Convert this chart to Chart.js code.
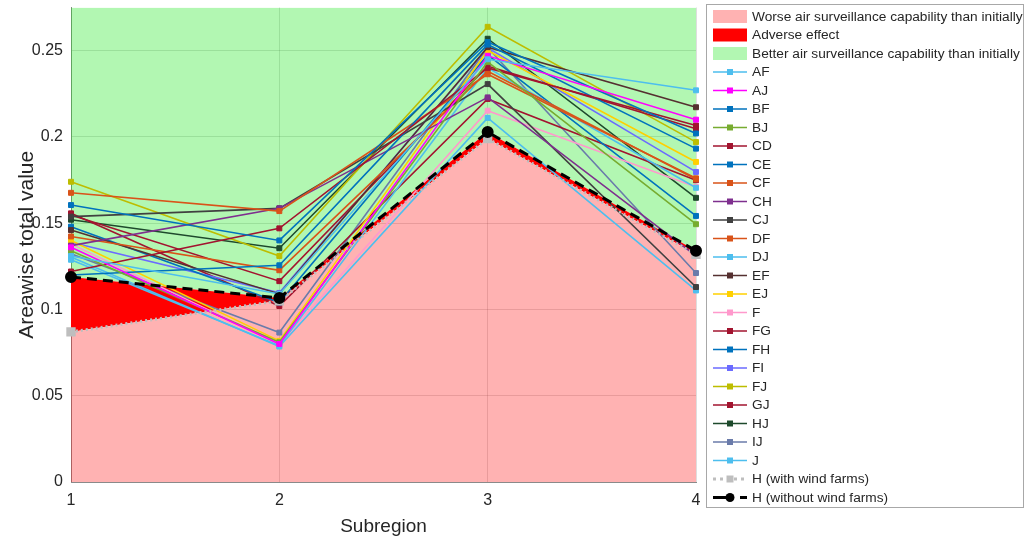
<!DOCTYPE html>
<html>
<head>
<meta charset="utf-8">
<script src="https://cdn.jsdelivr.net/npm/chart.js@4.4.1/dist/chart.umd.min.js"></script>
<style>
html,body{margin:0;padding:0;background:#fff;}
#wrap{width:1025px;height:544px;position:relative;}
</style>
</head>
<body>
<div id="wrap"><canvas id="c" width="1025" height="544"></canvas></div>
<script>
// ---- data ----
const subregions = [1, 2, 3, 4];
const yTicks = [0, 0.05, 0.1, 0.15, 0.2, 0.25];
const yMax = 0.275;

const AF = [0.131, 0.109, 0.245, 0.227];
const AJ = [0.136, 0.080, 0.247, 0.210];
const BF = [0.1605, 0.140, 0.255, 0.202];
const BJ = [0.134, 0.081, 0.2435, 0.1494];
const CD = [0.122, 0.147, 0.240, 0.2066];
const CE = [0.120, 0.1256, 0.2535, 0.1932];
const CF = [0.1676, 0.157, 0.2363, 0.176];
const CH = [0.137, 0.1586, 0.2229, 0.131];
const CJ = [0.1538, 0.1586, 0.2306, 0.113];
const DF = [0.1423, 0.1227, 0.238, 0.1755];
const DJ = [0.1288, 0.079, 0.240, 0.1705];
const EF = [0.146, 0.109, 0.252, 0.2172];
const EJ = [0.140, 0.0818, 0.250, 0.1855];
const F  = [0.138, 0.080, 0.2152, 0.171];
const FG = [0.1548, 0.1164, 0.241, 0.2047];
const FH = [0.148, 0.104, 0.2475, 0.1542];
const FI = [0.139, 0.1096, 0.2517, 0.1797];
const FJ = [0.174, 0.131, 0.2638, 0.197];
const GJ = [0.1557, 0.102, 0.222, 0.1749];
const HJ = [0.152, 0.1355, 0.2569, 0.1647];
const IJ = [0.1323, 0.0866, 0.2517, 0.1211];
const J  = [0.1304, 0.0785, 0.211, 0.111];
const H_with = [0.087, 0.105, 0.199, 0.132];
const H_without = [0.1188, 0.1067, 0.2028, 0.134];

const seriesNames = ['AF','AJ','BF','BJ','CD','CE','CF','CH','CJ','DF','DJ','EF','EJ','F','FG','FH','FI','FJ','GJ','HJ','IJ','J'];
const seriesValues = [AF,AJ,BF,BJ,CD,CE,CF,CH,CJ,DF,DJ,EF,EJ,F,FG,FH,FI,FJ,GJ,HJ,IJ,J];

// ---- styles ----
const seriesColors = {
  AF:'#4DBEEE', AJ:'#FF00FF', BF:'#0072BD', BJ:'#77AC30', CD:'#A2142F', CE:'#0072BD',
  CF:'#D95319', CH:'#7E2F8E', CJ:'#404040', DF:'#D95319', DJ:'#4DBEEE', EF:'#553030',
  EJ:'#FFD000', F:'#FF99CC', FG:'#A2142F', FH:'#0072BD', FI:'#6B6BFF', FJ:'#BDBD00',
  GJ:'#A2142F', HJ:'#1E4A2C', IJ:'#6A7BAA', J:'#4DBEEE'
};
const pinkFill = 'rgba(255,0,0,0.3)';
const greenFill = 'rgba(0,230,0,0.3)';
const redFill = 'rgb(255,0,0)';

const pts = arr => subregions.map((x, i) => ({x: x, y: arr[i]}));
const topLine = subregions.map(() => yMax);

const datasets = [];
datasets.push({label:'Worse air surveillance capability than initially', data: pts(H_with),
  fill:'origin', backgroundColor:pinkFill, borderWidth:0, pointRadius:0, order:20, legendType:'box', legendColor:'rgb(255,178,178)'});
datasets.push({label:'Adverse effect', data: pts(H_without),
  fill:{target:0, above:redFill, below:'rgba(0,0,0,0)'}, backgroundColor:redFill, borderWidth:0, pointRadius:0, order:19, legendType:'box', legendColor:redFill});
datasets.push({label:'Better air surveillance capability than initially', data: pts(topLine),
  fill:{target:1, above:greenFill, below:greenFill}, backgroundColor:greenFill, borderWidth:0, pointRadius:0, order:21, legendType:'box', legendColor:'rgb(178,247,178)'});

seriesNames.forEach((n, i) => {
  const c = seriesColors[n];
  datasets.push({label:n, data: pts(seriesValues[i]), fill:false, borderColor:c, backgroundColor:c,
    borderWidth:1.6, pointStyle:'rect', pointRadius:3.5, pointBorderWidth:1, tension:0, order:5, clip:false, legendType:'line'});
});
datasets.push({label:'H (with wind farms)', data: pts(H_with), fill:false, borderColor:'#BEBEBE', backgroundColor:'#BEBEBE',
  borderWidth:3, borderDash:[2,3], pointStyle:'rect', pointRadius:4.5, order:2, clip:false, legendType:'line', legendDash:[3,4]});
datasets.push({label:'H (without wind farms)', data: pts(H_without), fill:false, borderColor:'#000', backgroundColor:'#000',
  borderWidth:3, borderDash:[10,6], pointStyle:'circle', pointRadius:4.5, order:1, clip:false, legendType:'line', legendDash:[20,7]});

const FONT = '"Liberation Sans", Arial, Helvetica, sans-serif';

const legendPlugin = {
  id:'customLegend',
  afterDraw(chart){
    const ctx = chart.ctx;
    ctx.save();
    const x0 = 706, y0 = 4, w = 317, h = 503;
    ctx.fillStyle = '#fff';
    ctx.fillRect(x0, y0, w, h);
    ctx.strokeStyle = '#a8a8a8';
    ctx.lineWidth = 1;
    ctx.strokeRect(x0 + 0.5, y0 + 0.5, w, h);
    const ds = chart.data.datasets;
    ds.forEach((d, i) => {
      const yc = 16.5 + i * 18.5;
      const xs = 713, xe = 747, xm = 730;
      if (d.legendType === 'box') {
        ctx.fillStyle = d.legendColor;
        ctx.fillRect(xs, yc - 6.5, xe - xs, 13);
      } else {
        ctx.strokeStyle = d.borderColor;
        ctx.lineWidth = d.borderWidth;
        ctx.setLineDash(d.legendDash || []);
        ctx.beginPath();
        ctx.moveTo(xs, yc); ctx.lineTo(xe, yc);
        ctx.stroke();
        ctx.setLineDash([]);
        ctx.fillStyle = d.backgroundColor;
        const r = d.pointStyle === 'circle' ? 4.5 : (d.pointRadius >= 4 ? 3.5 : 3);
        ctx.beginPath();
        if (d.pointStyle === 'circle') ctx.arc(xm, yc, r, 0, Math.PI * 2);
        else ctx.rect(xm - r, yc - r, 2 * r, 2 * r);
        ctx.fill();
      }
      ctx.fillStyle = '#262626';
      ctx.font = '13.7px ' + FONT;
      ctx.textBaseline = 'middle';
      ctx.textAlign = 'left';
      ctx.fillText(d.label, 752, yc + 0.5);
    });
    ctx.restore();
  }
};

new Chart(document.getElementById('c'), {
  type:'line',
  data:{datasets},
  options:{
    responsive:false,
    animation:false,
    events:[],
    layout:{padding:{top:5, right:329, left:0, bottom:0}},
    plugins:{legend:{display:false}, tooltip:{enabled:false}, filler:{propagate:false}},
    scales:{
      x:{type:'linear', min:1, max:4,
        afterFit(s){ s.height = 62; s.paddingLeft = 0; s.paddingRight = 0; },
        ticks:{stepSize:1, padding:9, color:'#262626', font:{family:FONT, size:16},
          callback:v => Number.isInteger(v) ? String(v) : ''},
        grid:{color:'rgba(0,0,0,0.13)', drawTicks:false},
        border:{display:true, color:'#8a8a8a'},
        title:{display:true, text:'Subregion', color:'#262626', font:{family:FONT, size:19}, padding:{top:0,bottom:6}}
      },
      y:{min:0, max:yMax,
        afterFit(s){ s.width = 71; s.paddingTop = 0; s.paddingBottom = 0; },
        afterBuildTicks(s){ s.ticks = yTicks.map(v => ({value:v})); },
        ticks:{padding:8, color:'#262626', font:{family:FONT, size:16},
          callback:v => String(parseFloat(Number(v).toFixed(3)))},
        grid:{color:'rgba(0,0,0,0.13)', drawTicks:false},
        border:{display:true, color:'#8a8a8a'},
        title:{display:true, text:'Areawise total value', color:'#262626', font:{family:FONT, size:21}, padding:{top:15,bottom:0}}
      }
    }
  },
  plugins:[legendPlugin]
});
</script>
</body>
</html>
